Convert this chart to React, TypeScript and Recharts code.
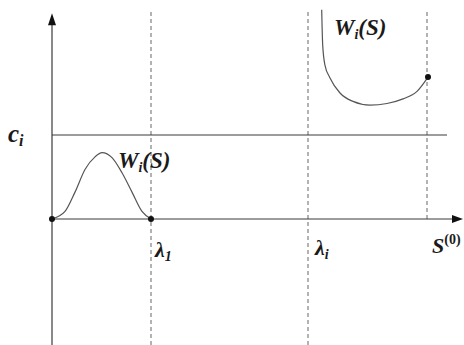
import React from "react";
import {
  ComposedChart,
  Line,
  XAxis,
  YAxis,
  ReferenceLine,
  ReferenceDot,
} from "recharts";

// schematic: x in [0, 41], y in [-1.5, 2.5]
const lambda1 = 9.9;
const lambdaI = 25.6;
const s0 = 37.5;
const ci = 1;

const bumpX = [0, 1.3, 2.3, 3.3, 4.3, 5.0, 6.0, 7.0, 8.0, 9.0, 9.9];
const bumpY = [0, 0.09, 0.32, 0.59, 0.74, 0.79, 0.73, 0.55, 0.32, 0.09, 0];

const cupX = [26.97, 27.07, 27.3, 27.8, 28.8, 30.1, 31.8, 33.5, 35.1, 36.5, 37.6];
const cupY = [2.49, 2.07, 1.83, 1.68, 1.5, 1.4, 1.355, 1.375, 1.43, 1.52, 1.69];

const endDots = [
  { x: 0, y: 0 },
  { x: 9.9, y: 0 },
  { x: 37.6, y: 1.69 },
];

const bump = bumpX.map((x, i) => ({ x, y: bumpY[i] }));
const cup = cupX.map((x, i) => ({ x, y: cupY[i] }));

const FONT = "Liberation Serif, Times New Roman, DejaVu Serif, serif";
const INK = "#3a3a3a";

type Lbl = { x: number; y: number; main: string; sub?: string; sup?: string; rest?: string; size: number };

const labels: Lbl[] = [
  { x: -4.4, y: 0.917, main: "c", sub: "i", size: 25 },
  { x: 6.6, y: 0.607, main: "W", sub: "i", rest: "(S)", size: 23 },
  { x: 28.2, y: 2.19, main: "W", sub: "i", rest: "(S)", size: 23 },
  { x: 10.3, y: -0.452, main: "λ", sub: "1", size: 22 },
  { x: 26.3, y: -0.429, main: "λ", sub: "i", size: 22 },
  { x: 38.0, y: -0.405, main: "S", sup: "(0)", size: 22 },
];

const renderLabel = (l: Lbl) => (p: any) => {
  const small = Math.round(l.size * 0.62);
  return (
    <text
      x={p.cx}
      y={p.cy}
      fontFamily={FONT}
      fontStyle="italic"
      fontWeight="bold"
      fontSize={l.size}
      fill="#1a1a1a"
    >
      <tspan>{l.main}</tspan>
      {l.sub && (
        <tspan dy={4} fontSize={small}>
          {l.sub}
        </tspan>
      )}
      {l.rest && <tspan dy={-4}>{l.rest}</tspan>}
      {l.sup && (
        <tspan dy={-9} fontSize={small} fontStyle="normal">
          {l.sup}
        </tspan>
      )}
    </text>
  );
};

const arrowUp = (p: any) => (
  <polygon
    points={`${p.cx},${p.cy} ${p.cx - 4},${p.cy + 12} ${p.cx + 4},${p.cy + 12}`}
    fill="#111"
  />
);

const arrowRight = (p: any) => (
  <polygon
    points={`${p.cx},${p.cy} ${p.cx - 11},${p.cy - 4} ${p.cx - 11},${p.cy + 4}`}
    fill="#111"
  />
);

const dotShape = (p: any) => <circle cx={p.cx} cy={p.cy} r={3} fill="#111" />;

export default function App() {
  return (
    <div style={{ position: "absolute", left: 0, top: 0, background: "#fff" }}>
      <ComposedChart
        width={464}
        height={345}
        margin={{ top: 9, right: 2, bottom: 0, left: 52 }}
      >
        <XAxis type="number" dataKey="x" domain={[0, 41]} hide />
        <YAxis type="number" dataKey="y" domain={[-1.5, 2.5]} hide />

        {/* dashed guides */}
        <ReferenceLine
          segment={[{ x: lambda1, y: -1.5 }, { x: lambda1, y: 2.5 }]}
          stroke="#666"
          strokeDasharray="4 3"
          ifOverflow="visible"
        />
        <ReferenceLine
          segment={[{ x: lambdaI, y: -1.5 }, { x: lambdaI, y: 2.5 }]}
          stroke="#666"
          strokeDasharray="4 3"
          ifOverflow="visible"
        />
        <ReferenceLine
          segment={[{ x: s0, y: 0 }, { x: s0, y: 2.5 }]}
          stroke="#666"
          strokeDasharray="4 3"
          ifOverflow="visible"
        />

        {/* axes and c_i level */}
        <ReferenceLine
          segment={[{ x: 0, y: -1.5 }, { x: 0, y: 2.4 }]}
          stroke={INK}
          strokeWidth={1.2}
          ifOverflow="visible"
        />
        <ReferenceLine
          segment={[{ x: 0, y: 0 }, { x: 40, y: 0 }]}
          stroke={INK}
          strokeWidth={1.2}
          ifOverflow="visible"
        />
        <ReferenceLine
          segment={[{ x: 0, y: ci }, { x: 39.5, y: ci }]}
          stroke={INK}
          strokeWidth={1.2}
          ifOverflow="visible"
        />

        <Line
          data={bump}
          dataKey="y"
          type="monotone"
          stroke="#555"
          strokeWidth={1.2}
          dot={false}
          isAnimationActive={false}
        />
        <Line
          data={cup}
          dataKey="y"
          type="monotone"
          stroke="#555"
          strokeWidth={1.2}
          dot={false}
          isAnimationActive={false}
        />

        <ReferenceDot x={0} y={2.45} shape={arrowUp} ifOverflow="visible" />
        <ReferenceDot x={41.1} y={0} shape={arrowRight} ifOverflow="visible" />

        {endDots.map((d, i) => (
          <ReferenceDot key={"d" + i} x={d.x} y={d.y} shape={dotShape} ifOverflow="visible" />
        ))}

        {labels.map((l, i) => (
          <ReferenceDot
            key={"l" + i}
            x={l.x}
            y={l.y}
            shape={renderLabel(l)}
            ifOverflow="visible"
          />
        ))}
      </ComposedChart>
    </div>
  );
}
